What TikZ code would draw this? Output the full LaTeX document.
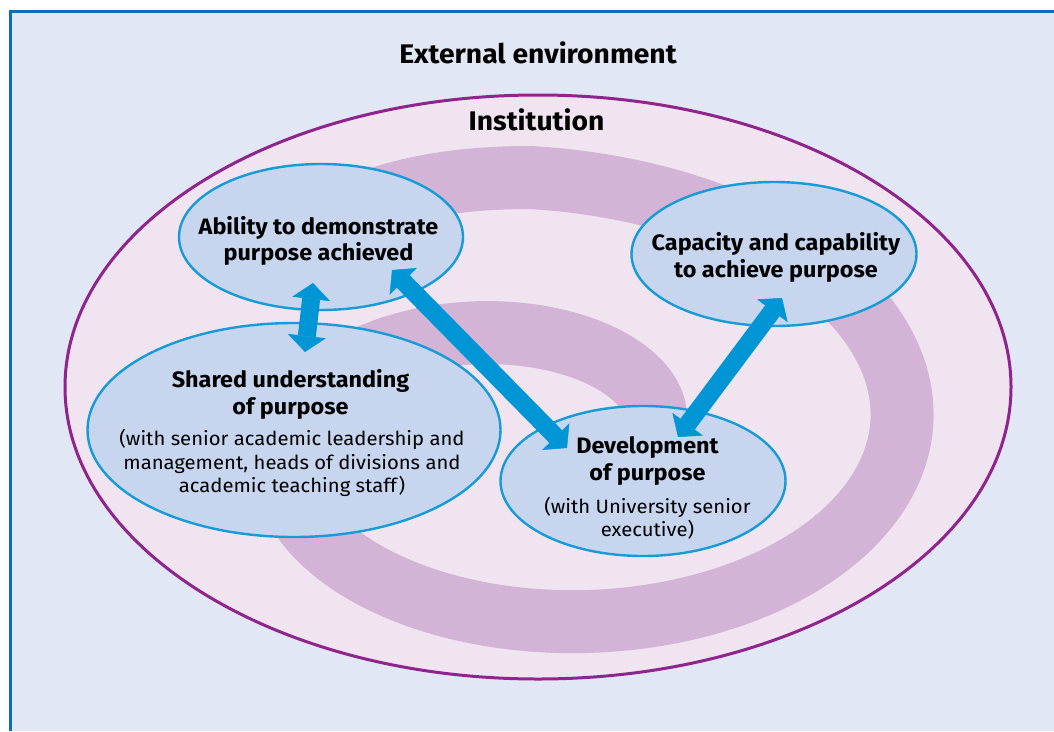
\documentclass[tikz,border=0pt]{standalone}
\usepackage{fontspec}
\setmainfont{Fira Sans}[FakeStretch=1.05]
\usetikzlibrary{shapes.geometric,arrows.meta,calc}
\definecolor{envfill}{HTML}{E1E7F5}
\definecolor{frameblue}{HTML}{0B6FB8}
\definecolor{instfill}{HTML}{F0E4F1}
\definecolor{instline}{HTML}{8E248C}
\definecolor{bandcol}{HTML}{D4B4D6}
\definecolor{bubfill}{HTML}{C7D6EE}
\definecolor{bubline}{HTML}{169BD7}
\definecolor{arrowblue}{HTML}{0096D6}

\begin{document}
\begin{tikzpicture}[x=1pt,y=-1pt,
  bubble/.style={ellipse, draw=bubline, fill=bubfill, line width=2.4pt, inner sep=0pt},
  title/.style={align=center, font=\fontsize{22.3}{26.7}\selectfont\bfseries, inner sep=0pt},
  subtext/.style={align=center, font=\fontsize{19.3}{23.3}\selectfont, inner sep=0pt},
  heading/.style={font=\fontsize{26.9}{30}\selectfont\bfseries, inner sep=0pt, anchor=base},
  headtip/.tip={Triangle[width=38pt,length=16pt,line width=0.5pt]},
  link/.style={draw=arrowblue, fill=arrowblue, line width=18pt, {headtip}-{headtip}},
  band/.style={draw=bandcol, line width=63pt, line join=round}
]
\useasboundingbox (0,0) rectangle (1054,731);

% page and the external-environment panel
\fill[white] (0,0) rectangle (1054,731);
\fill[envfill] (10,11.5) rectangle (1054,731);
\draw[frameblue, line width=3pt] (10,731) -- (10,11.5) -- (1054,11.5);

% institution
\node[ellipse, draw=instline, fill=instfill, line width=3pt, inner sep=0pt,
      minimum width=946pt, minimum height=584pt] (inst) at (538,387) {};

% spiral band
\draw[band] (320,225) .. controls (380,190) and (450,177.5) .. (530.5,177.5)
  -- plot[domain=0:480, samples=241, variable=\t]
     ({530.5+(432.1-0.6958*\t)*sin(\t)}, {438.25-(260.75-0.4389*\t)*cos(\t)});

% the four bubbles
\node[bubble, minimum width=284pt, minimum height=146pt] (ability)  at (321,237) {};
\node[bubble, minimum width=285pt, minimum height=144pt] (capacity) at (774,254) {};
\node[bubble, minimum width=413pt, minimum height=214pt] (shared)   at (294,430) {};
\node[bubble, minimum width=285pt, minimum height=150pt] (develop)  at (643,481) {};

% headings
\node[heading] (envlabel)  at (538,63.3) {External environment};
\node[heading] (instlabel) at (536.5,130) {Institution};

% bubble texts
\node[title] (abilitytext)  at (318.5,241) {Ability to demonstrate\\purpose achieved};
\node[title] (capacitytext) at (776,257.5) {Capacity and capability\\to achieve purpose};
\node[title] (sharedtext)   at (290.5,394.3) {Shared understanding\\of purpose};
\node[subtext] (sharedsub)  at (292,463) {(with senior academic leadership and\\management, heads of divisions and\\academic teaching staff)};
\node[title] (developtext)  at (647.5,461) {Development\\of purpose};
\node[subtext] (developsub) at (647.5,518) {(with University senior\\executive)};

% arrow ends
\coordinate (abS)  at ($(ability.center)+(-8,46)$);
\coordinate (shN)  at ($(shared.center)+(11,-78)$);
\coordinate (abSE) at ($(ability.center)+(71,33)$);
\coordinate (dvNW) at ($(develop.center)+(-76,-33)$);
\coordinate (caS)  at ($(capacity.center)+(8,44)$);
\coordinate (dvN)  at ($(develop.center)+(35,-44)$);

% connectors
\draw[link] (abS) -- (shN);
\draw[link] (abSE) -- (dvNW);
\draw[link] (caS) -- (dvN);
\end{tikzpicture}
\end{document}
